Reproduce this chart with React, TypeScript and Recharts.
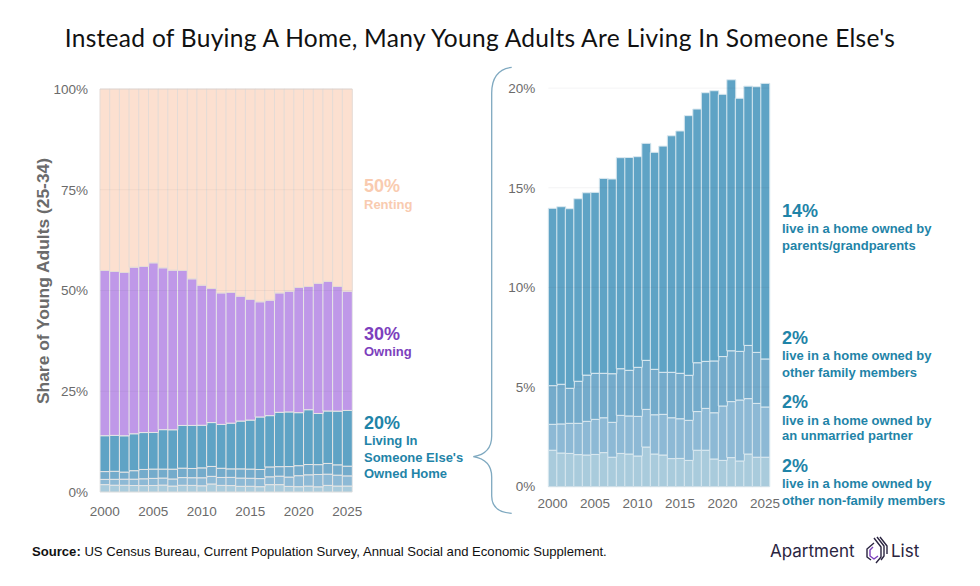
import React from "react";
import { BarChart, Bar, XAxis, YAxis, ReferenceLine } from "recharts";

const years = [2000,2001,2002,2003,2004,2005,2006,2007,2008,2009,2010,2011,2012,2013,2014,2015,2016,2017,2018,2019,2020,2021,2022,2023,2024,2025];
const yearTicks = [2000,2005,2010,2015,2020,2025];
const leftTicks = [0,25,50,75,100];
const rightTicks = [0,5,10,15,20];

// cumulative tops (share of all 25-34 year-olds, %)
const topNonFamily = [1.83,1.69,1.67,1.61,1.59,1.62,1.71,1.48,1.67,1.64,1.54,1.99,1.64,1.59,1.41,1.42,1.32,1.83,1.83,1.39,1.32,1.46,1.29,1.64,1.48,1.48];
const topPartner = [3.13,3.15,3.18,3.18,3.28,3.38,3.46,3.23,3.58,3.55,3.53,3.88,3.61,3.63,3.46,3.41,3.33,3.77,3.93,3.71,4.05,4.27,4.35,4.42,4.18,4.0];
const topFamily = [5.07,5.14,4.94,5.29,5.6,5.69,5.69,5.67,5.92,5.84,5.99,6.34,5.89,5.74,5.74,5.69,5.59,6.22,6.29,6.31,6.53,6.82,6.79,7.09,6.74,6.41];
const topParents = [13.97,14.05,13.95,14.45,14.75,14.77,15.47,15.44,16.51,16.52,16.56,17.23,16.78,17.09,17.61,17.85,18.62,18.95,19.77,19.87,19.69,20.42,19.49,20.1,20.07,20.24];
const topOwning = [54.97,54.72,54.47,55.8,55.96,56.87,55.63,55.05,54.97,52.9,51.33,50.5,49.4,49.5,48.6,47.77,47.2,47.6,49.4,49.84,50.75,51.0,51.8,52.3,51.0,49.84];

const rows = years.map((year, i) => ({
  year,
  nonFamily: topNonFamily[i],
  partner: topPartner[i] - topNonFamily[i],
  family: topFamily[i] - topPartner[i],
  parents: topParents[i] - topFamily[i],
  owning: topOwning[i] - topParents[i],
  renting: 100 - topOwning[i],
}));

const FONT = "'Liberation Sans', Arial, sans-serif";
const tickStyle = { fontSize: 13.5, fill: "#6b6b6b", fontFamily: FONT };
const C = { nonFamily: "#a9cbdc", partner: "#8db9d5", family: "#74abcb", parents: "#5fa3c5", owning: "#bf98e8", renting: "#fce0d0" };

function T({ x, y, size, color, children }: any) {
  return (
    <text x={x} y={y} fontSize={size} fill={color} fontWeight={700} fontFamily={FONT} dominantBaseline="central">
      {children}
    </text>
  );
}

const renderBars = (keys: (keyof typeof C)[], stroke: string) =>
  keys.map((k) => (
    <Bar key={k} dataKey={k} stackId="a" fill={C[k]} stroke={k === "renting" ? "#e4dbd6" : stroke} strokeWidth={1} isAnimationActive={false} />
  ));

export default function App() {
  return (
    <div style={{ position: "absolute", left: 0, top: 0, width: 980, height: 586, background: "#fff", overflow: "hidden" }}>
      <div style={{ position: "absolute", left: 0, top: 0 }}>
        <BarChart width={380} height={530} data={rows} barCategoryGap={0} margin={{ top: 89, right: 28, bottom: 0, left: 0 }}>
          <XAxis dataKey="year" ticks={yearTicks} interval={0} axisLine={false} tickLine={false} height={38} tick={tickStyle} tickMargin={8} />
          <YAxis domain={[0, 100]} ticks={leftTicks} width={100} axisLine={false} tickLine={false} tick={tickStyle} tickMargin={6} tickFormatter={(v: number) => `${v}%`} />
          {renderBars(["nonFamily", "partner", "family", "parents", "owning", "renting"], "#e6e6e6")}
          {leftTicks.map((t) => (
            <ReferenceLine key={t} y={t} stroke="rgba(60,60,80,0.06)" />
          ))}
        </BarChart>
      </div>
      <div style={{ position: "absolute", left: 500, top: 0 }}>
        <BarChart width={300} height={530} data={rows} barCategoryGap={0} margin={{ top: 68.2, right: 30.7, bottom: 0, left: 0 }}>
          <XAxis dataKey="year" ticks={yearTicks} interval={0} axisLine={false} tickLine={false} height={43.3} tick={tickStyle} tickMargin={6} />
          <YAxis domain={[0, 21]} ticks={rightTicks} width={48.3} axisLine={false} tickLine={false} tick={tickStyle} tickMargin={7} tickFormatter={(v: number) => `${v}%`} />
          {renderBars(["nonFamily", "partner", "family", "parents"], "#dbe9f0")}
          {rightTicks.map((t) => (
            <ReferenceLine key={t} y={t} stroke="rgba(60,60,80,0.06)" />
          ))}
        </BarChart>
      </div>
      <svg width={980} height={586} style={{ position: "absolute", left: 0, top: 0, pointerEvents: "none" }}>
        <text x={480} y={37} textAnchor="middle" dominantBaseline="central" fontSize={24.5} letterSpacing={0.3} fill="#111" fontFamily="Lato, sans-serif">
          Instead of Buying A Home, Many Young Adults Are Living In Someone Else's
        </text>
        <text transform="translate(42.5,281) rotate(-90)" textAnchor="middle" dominantBaseline="central" fontSize={17.4} fontWeight={700} fill="#6b6b6b" fontFamily={FONT}>
          Share of Young Adults (25-34)
        </text>

        <T x={364} y={186} size={18} color="#f9cbb0">50%</T>
        <T x={364} y={204} size={13} color="#f9cbb0">Renting</T>
        <T x={364} y={334} size={18} color="#7d3fbd">30%</T>
        <T x={364} y={351} size={13} color="#7d3fbd">Owning</T>
        <T x={364} y={423} size={18} color="#1f84a8">20%</T>
        <T x={364} y={440} size={13} color="#1f84a8">Living In</T>
        <T x={364} y={457} size={13} color="#1f84a8">Someone Else's</T>
        <T x={364} y={473} size={13} color="#1f84a8">Owned Home</T>

        <T x={782} y={211} size={18} color="#1f84a8">14%</T>
        <T x={782} y={228} size={13} color="#1f84a8">live in a home owned by</T>
        <T x={782} y={245} size={13} color="#1f84a8">parents/grandparents</T>
        <T x={782} y={338} size={18} color="#1f84a8">2%</T>
        <T x={782} y={355} size={13} color="#1f84a8">live in a home owned by</T>
        <T x={782} y={372} size={13} color="#1f84a8">other family members</T>
        <T x={782} y={402} size={18} color="#1f84a8">2%</T>
        <T x={782} y={420} size={13} color="#1f84a8">live in a home owned by</T>
        <T x={782} y={435} size={13} color="#1f84a8">an unmarried partner</T>
        <T x={782} y={466} size={18} color="#1f84a8">2%</T>
        <T x={782} y={483} size={13} color="#1f84a8">live in a home owned by</T>
        <T x={782} y={500} size={13} color="#1f84a8">other non-family members</T>

        <path
          d="M511.7 67.3 C498 69 491.7 78 491.7 93 L491.7 436 C491.7 449 484 455 473.3 456.7 C484 458.5 491.7 464 491.7 477 L491.7 496 C491.7 507 498 512.5 511.7 513.3"
          fill="none"
          stroke="#7fa9c0"
          strokeWidth={1.3}
        />

        <text x={32} y={551} fontSize={13.1} fill="#111" fontFamily={FONT} dominantBaseline="central">
          <tspan fontWeight={700}>Source:</tspan> US Census Bureau, Current Population Survey, Annual Social and Economic Supplement.
        </text>

        <text x={770} y={551} fontSize={17} fill="#2a2440" fontFamily="Inter, sans-serif" dominantBaseline="central">Apartment</text>
        <text x={891} y={551} fontSize={17} fill="#2a2440" fontFamily="Inter, sans-serif" dominantBaseline="central">List</text>
        <g fill="none" strokeWidth={1.4} strokeLinejoin="round">
          <path d="M874 543 L867 549 L867 557 L871 560" stroke="#2a2440" />
          <path d="M873 547 L870 550 L870 556 L874 559 L878 556" stroke="#7d3fbd" />
          <path d="M874 538 L881 547 L881 557 L876 563" stroke="#2a2440" />
          <path d="M877 537 L884 546 L884 556 L881 560" stroke="#2a2440" />
          <path d="M880 537 L887 546 L887 554" stroke="#2a2440" />
        </g>
      </svg>
    </div>
  );
}
